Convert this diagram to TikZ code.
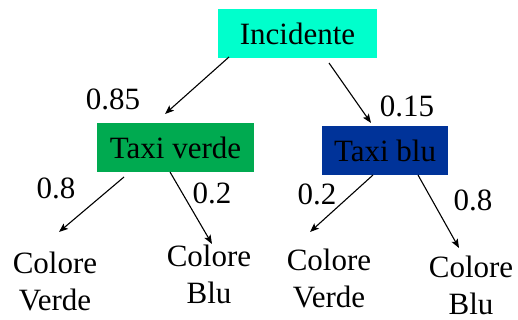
\documentclass[tikz,border=0pt]{standalone}
\usepackage{fontspec}
\setmainfont{Liberation Serif}
\newfontfamily\tnr{Liberation Serif}
\usetikzlibrary{arrows.meta}
\definecolor{inccol}{RGB}{0,255,204}
\definecolor{tvcol}{RGB}{0,170,80}
\definecolor{tbcol}{RGB}{0,51,153}
\tikzset{
  box/.style={inner sep=0pt, minimum height=49pt, font=\tnr\fontsize{31}{37}\selectfont},
  leaf/.style={inner sep=0pt, align=center, anchor=north, font=\tnr\fontsize{31}{37}\selectfont},
  prob/.style={inner sep=0pt, anchor=base, font=\tnr\fontsize{31}{37}\selectfont},
  arr/.style={line width=1.1pt, -{Stealth[length=9pt,width=7pt,inset=2pt]}}
}
\begin{document}
\begin{tikzpicture}[x=1pt,y=-1pt]
\useasboundingbox (0,0) rectangle (518,320);
\node[box, fill=inccol, minimum width=159pt] (inc) at (297.5,33.5) {Incidente};
\node[box, fill=tvcol, minimum width=157pt] (tv) at (175.5,147.5) {Taxi verde};
\node[box, fill=tbcol, minimum width=126pt] (tb) at (385,150.5) {Taxi blu};
\node[leaf] (l1) at (55,252) {Colore\\Verde};
\node[leaf] (l2) at (209,245) {Colore\\Blu};
\node[leaf] (l3) at (329,249) {Colore\\Verde};
\node[leaf] (l4) at (471,256) {Colore\\Blu};
\node[prob] (p1) at (113,110) {0.85};
\node[prob] (p2) at (407,117) {0.15};
\node[prob] (p3) at (56,198) {0.8};
\node[prob] (p4) at (212,203) {0.2};
\node[prob] (p5) at (317,204) {0.2};
\node[prob] (p6) at (473,210) {0.8};
\coordinate (s1) at (229,57);
\coordinate (e1) at (165,114);
\coordinate (s2) at (329,63);
\coordinate (e2) at (371,123);
\coordinate (s3) at (124,177);
\coordinate (e3) at (59,232);
\coordinate (s4) at (170,172);
\coordinate (e4) at (212,244);
\coordinate (s5) at (373,175);
\coordinate (e5) at (310,232);
\coordinate (s6) at (418,175);
\coordinate (e6) at (459,248);
\draw[arr] (s1) -- (e1);
\draw[arr] (s2) -- (e2);
\draw[arr] (s3) -- (e3);
\draw[arr] (s4) -- (e4);
\draw[arr] (s5) -- (e5);
\draw[arr] (s6) -- (e6);
\end{tikzpicture}
\end{document}
